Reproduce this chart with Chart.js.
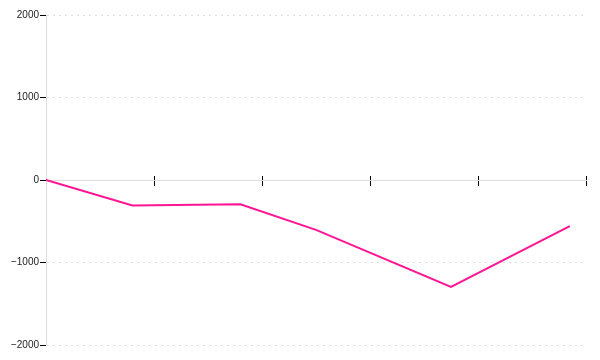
<!DOCTYPE html>
<html>
<head>
<meta charset="utf-8">
<script src="https://cdn.jsdelivr.net/npm/chart.js@4/dist/chart.umd.min.js"></script>
<style>
  html, body { margin: 0; padding: 0; background: #fff; }
  #wrap { width: 600px; height: 360px; }
</style>
</head>
<body>
<div id="wrap"><canvas id="myChart"></canvas></div>
<script>
const xValues = [0, 16, 36, 50, 75, 97];
const yValues = [0, -310, -295, -605, -1295, -560];
const yTicks = [-2000, -1000, 0, 1000, 2000];

const points = xValues.map((x, i) => ({ x: x, y: yValues[i] }));

const gridGray = '#dddddd';
const tickFont = { family: 'Liberation Sans', size: 10 };

const ctx = document.getElementById('myChart');

const myChart = new Chart(ctx, {
  type: 'line',
  data: {
    datasets: [{
      data: points,
      borderColor: '#ff1493',
      borderWidth: 2,
      pointRadius: 0,
      tension: 0,
      fill: false
    }]
  },
  options: {
    responsive: true,
    maintainAspectRatio: false,
    animation: false,
    layout: { padding: { top: 15, right: 14, bottom: 15, left: 0 } },
    plugins: {
      legend: { display: false },
      tooltip: { enabled: false }
    },
    scales: {
      x: {
        type: 'linear',
        position: { y: 0 },
        min: 0,
        max: 100,
        ticks: { display: false, stepSize: 20 },
        grid: {
          drawOnChartArea: false,
          tickLength: 5,
          tickColor: '#000',
          tickWidth: 1
        },
        border: { color: gridGray, width: 1 },
        afterFit: s => { s.height = 0; }
      },
      x2: {
        type: 'linear',
        axis: 'x',
        position: { y: 0 },
        min: 0,
        max: 100,
        ticks: { display: false, stepSize: 20 },
        grid: {
          drawOnChartArea: false,
          tickLength: -4,
          tickColor: '#000',
          tickWidth: 1
        },
        border: { display: false },
        afterFit: s => { s.height = 0; }
      },
      y: {
        min: -2000,
        max: 2000,
        afterBuildTicks: s => { s.ticks = yTicks.map(v => ({ value: v })); },
        ticks: {
          color: '#222',
          font: tickFont,
          padding: 1,
          callback: v => (v < 0 ? '\u2212' + Math.abs(v) : String(v))
        },
        grid: {
          color: gridGray,
          tickColor: '#000',
          tickLength: 6,
          tickBorderDash: []
        },
        border: { color: gridGray, dash: [2, 4] },
        afterFit: s => { s.width = 46; }
      }
    }
  }
});
</script>
</body>
</html>
